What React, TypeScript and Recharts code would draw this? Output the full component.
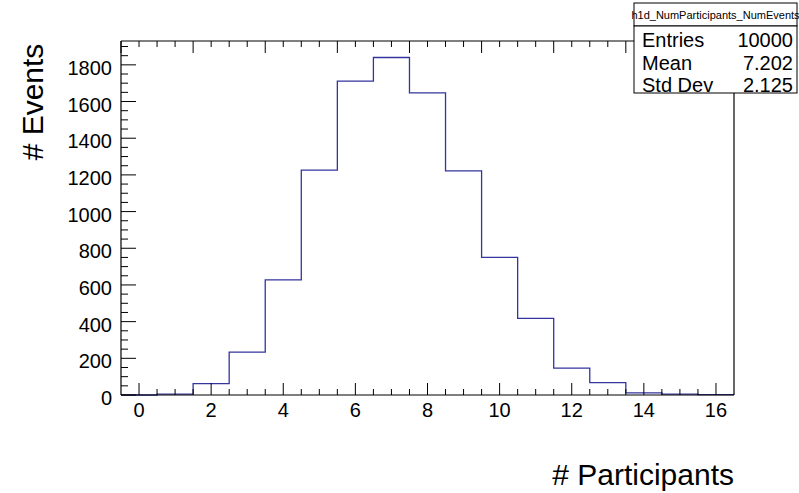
import { ComposedChart, Line, XAxis, YAxis } from "recharts";

// bin centres (number of participants) and counts
const binCenters = [0, 1, 2, 3, 4, 5, 6, 7, 8, 9, 10, 11, 12, 13, 14, 15, 16];
const eventCounts = [0, 5, 62, 234, 628, 1226, 1711, 1840, 1647, 1222, 750, 418, 147, 67, 12, 5, 2];

const xLabelValues = [0, 2, 4, 6, 8, 10, 12, 14, 16];
const yLabelValues = [0, 200, 400, 600, 800, 1000, 1200, 1400, 1600, 1800];

const histTitle = "h1d_NumParticipants_NumEvents";
const statNames = ["Entries", "Mean", "Std Dev"];
const statValues = ["10000", "7.202", "2.125"];

const X_DOMAIN: [number, number] = [-0.5, 16.5];
const Y_DOMAIN: [number, number] = [0, 1930];

// minor ticks every 0.5 on x, every 50 on y
const xTicks = Array.from({ length: 33 }, (_, i) => i * 0.5);
const yTicks = Array.from({ length: 39 }, (_, i) => i * 50);

// step outline: one point on each low edge, plus the final high edge
const histData = [
  ...binCenters.map((c, i) => ({ x: c - 0.5, count: eventCounts[i] })),
  {
    x: binCenters[binCenters.length - 1] + 0.5,
    count: eventCounts[eventCounts.length - 1],
  },
];

const FONT = "'Liberation Sans', Arial, Helvetica, sans-serif";
const LINE_BLUE = "#34349e";

type TickProps = { x: number; y: number; payload: { value: number } };

function BottomTick({ x, y, payload }: TickProps) {
  const v = payload.value;
  const major = xLabelValues.includes(v);
  return (
    <g>
      <line x1={x} x2={x} y1={y} y2={y - (major ? 12 : 6)} stroke="#000" strokeWidth={1} />
      {major ? (
        <text x={x} y={y + 22} textAnchor="middle" fontSize={20} fontFamily={FONT} fill="#000">
          {v}
        </text>
      ) : null}
    </g>
  );
}

function TopTick({ x, y, payload }: TickProps) {
  const major = xLabelValues.includes(payload.value);
  return <line x1={x} x2={x} y1={y} y2={y + (major ? 12 : 6)} stroke="#000" strokeWidth={1} />;
}

function LeftTick({ x, y, payload }: TickProps) {
  const v = payload.value;
  const major = yLabelValues.includes(v);
  return (
    <g>
      <line x1={x} x2={x + (major ? 15 : 7)} y1={y} y2={y} stroke="#000" strokeWidth={1} />
      {major ? (
        <text x={x - 9} y={y + 10} textAnchor="end" fontSize={20} fontFamily={FONT} fill="#000">
          {v}
        </text>
      ) : null}
    </g>
  );
}

function RightTick({ x, y, payload }: TickProps) {
  const major = yLabelValues.includes(payload.value);
  return <line x1={x} x2={x - (major ? 15 : 7)} y1={y} y2={y} stroke="#000" strokeWidth={1} />;
}

const frameLine = { stroke: "#000", strokeWidth: 1.2 };

export default function App() {
  return (
    <div style={{ position: "absolute", left: 0, top: 0, width: 799, height: 493, background: "#fff" }}>
      <ComposedChart
        width={799}
        height={493}
        data={histData}
        margin={{ top: 40, right: 64, bottom: 97, left: 120 }}
      >
        <XAxis
          xAxisId="bottom"
          dataKey="x"
          type="number"
          domain={X_DOMAIN}
          ticks={xTicks}
          interval={0}
          height={1}
          tickSize={0}
          tickMargin={0}
          tickLine={false}
          axisLine={frameLine}
          tick={(p: any) => <BottomTick {...p} />}
        />
        <XAxis
          xAxisId="top"
          orientation="top"
          type="number"
          domain={X_DOMAIN}
          ticks={xTicks}
          interval={0}
          height={1}
          tickSize={0}
          tickMargin={0}
          tickLine={false}
          axisLine={frameLine}
          tick={(p: any) => <TopTick {...p} />}
        />
        <YAxis
          yAxisId="left"
          type="number"
          domain={Y_DOMAIN}
          ticks={yTicks}
          interval={0}
          width={1}
          tickSize={0}
          tickMargin={0}
          tickLine={false}
          axisLine={frameLine}
          tick={(p: any) => <LeftTick {...p} />}
        />
        <YAxis
          yAxisId="right"
          orientation="right"
          type="number"
          domain={Y_DOMAIN}
          ticks={yTicks}
          interval={0}
          width={1}
          tickSize={0}
          tickMargin={0}
          tickLine={false}
          axisLine={frameLine}
          tick={(p: any) => <RightTick {...p} />}
        />
        <Line
          xAxisId="bottom"
          yAxisId="left"
          dataKey="count"
          type="stepAfter"
          stroke={LINE_BLUE}
          strokeWidth={1.3}
          dot={false}
          activeDot={false}
          isAnimationActive={false}
        />
      </ComposedChart>

      <svg
        width={799}
        height={493}
        style={{ position: "absolute", left: 0, top: 0, pointerEvents: "none" }}
        fontFamily={FONT}
      >
        <text
          x={43}
          y={102}
          transform="rotate(-90 43 102)"
          textAnchor="middle"
          fontSize={30}
          fill="#000"
        >
          # Events
        </text>
        <text x={734} y={485} textAnchor="end" fontSize={30} fill="#000">
          # Participants
        </text>

        <rect x={634} y={3} width={163} height={23} fill="#fff" stroke="#000" strokeWidth={1} />
        <text x={715.5} y={19} textAnchor="middle" fontSize={11} fill="#000">
          {histTitle}
        </text>
        <rect x={634} y={26} width={163} height={67} fill="#fff" stroke="#000" strokeWidth={1} />
        {statNames.map((name, i) => (
          <g key={name}>
            <text x={642} y={47 + i * 22.5} fontSize={20} fill="#000">
              {name}
            </text>
            <text x={793} y={47 + i * 22.5} textAnchor="end" fontSize={20} fill="#000">
              {statValues[i]}
            </text>
          </g>
        ))}
      </svg>
    </div>
  );
}
